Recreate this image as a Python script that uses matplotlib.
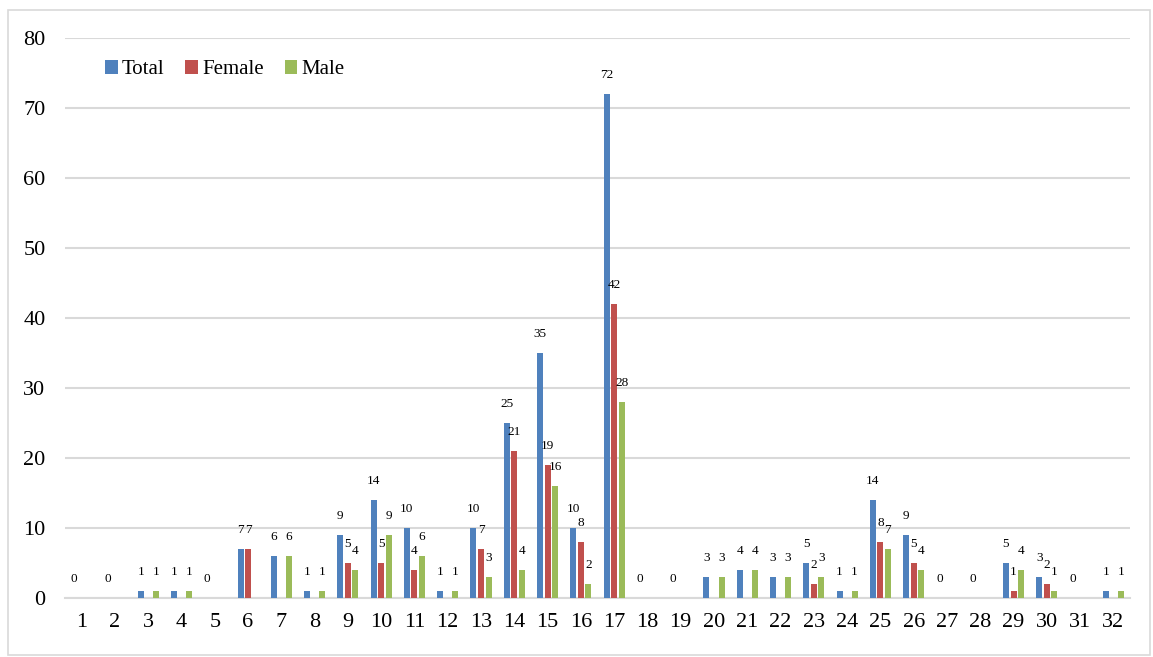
import numpy as np
import matplotlib.pyplot as plt
from matplotlib.patches import Rectangle

# data
categories = [str(i) for i in range(1, 33)]
total = [0, 0, 1, 1, 0, 7, 6, 1, 9, 14, 10, 1, 10, 25, 35, 10,
         72, 0, 0, 3, 4, 3, 5, 1, 14, 9, 0, 0, 5, 3, 0, 1]
female = [0, 0, 0, 0, 0, 7, 0, 0, 5, 5, 4, 0, 7, 21, 19, 8,
          42, 0, 0, 0, 0, 0, 2, 0, 8, 5, 0, 0, 1, 2, 0, 0]
male = [0, 0, 1, 1, 0, 0, 6, 1, 4, 9, 6, 1, 3, 4, 16, 2,
        28, 0, 0, 3, 4, 3, 3, 1, 7, 4, 0, 0, 4, 1, 0, 1]

plt.rcParams["font.family"] = ["Liberation Serif", "DejaVu Serif"]

fig = plt.figure(figsize=(11.53, 6.57), dpi=100)
ax = fig.add_axes([65 / 1153, 59 / 657, 1065 / 1153, 560 / 657])

# outer chart border
fig.patches.append(Rectangle((8 / 1153, 2 / 657), 1142 / 1153, 645 / 657,
                             transform=fig.transFigure, fill=False,
                             edgecolor="#D9D9D9", linewidth=1.2))

x = np.arange(len(categories))
step = 0.226
width = 0.18
series = [("Total", total, "#4F81BD"),
          ("Female", female, "#C0504D"),
          ("Male", male, "#9BBB59")]

for i, (name, vals, color) in enumerate(series):
    pos = x + (i - 1) * step
    ax.bar(pos, vals, width, color=color, label=name, zorder=3)
    for p, v in zip(pos, vals):
        if v == 0 and name != "Total":
            continue
        ax.annotate(str(v), (p, v), xytext=(0, 19), textcoords="offset pixels",
                    ha="center", va="center", fontsize=9.5, zorder=4)

ax.set_xlim(-0.5, len(categories) - 0.5)
ax.set_ylim(0, 80)
ax.set_yticks(range(0, 81, 10))
ax.set_xticks(x)
ax.set_xticklabels(categories)
ax.tick_params(axis="both", length=0, labelsize=16)
ax.tick_params(axis="x", pad=11)
ax.tick_params(axis="y", pad=14)
ax.grid(axis="y", color="#D9D9D9", linewidth=1.5, zorder=0)
for s in ["top", "right", "left"]:
    ax.spines[s].set_visible(False)
ax.spines["bottom"].set_color("#D9D9D9")
ax.spines["bottom"].set_linewidth(1.5)

ax.legend(loc="upper left", bbox_to_anchor=(0.03, 0.975), ncol=3, frameon=False,
          fontsize=15, handlelength=0.6, handleheight=0.6, handletextpad=0.2,
          columnspacing=1.0, borderaxespad=0)

fig.savefig("out.png", dpi=100)
